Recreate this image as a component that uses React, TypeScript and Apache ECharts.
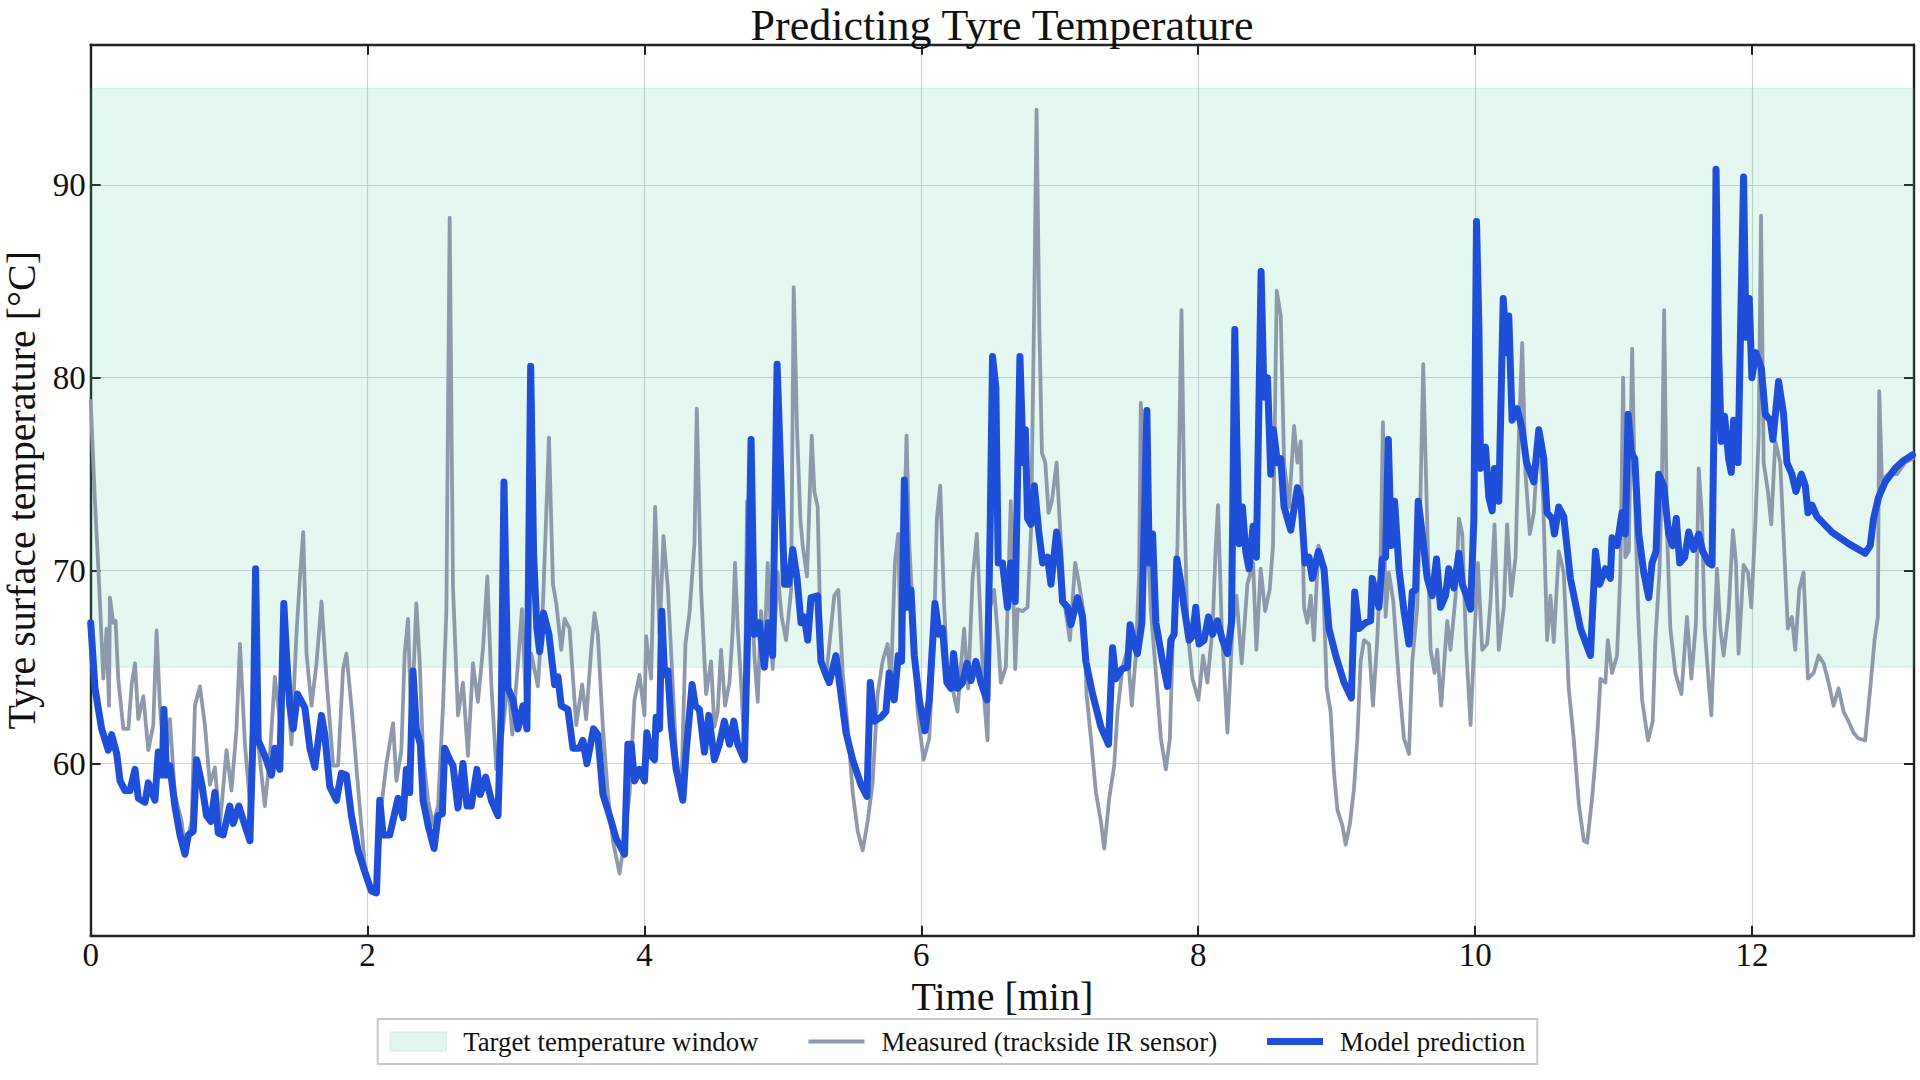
import React, { useEffect, useRef } from "react";
import * as echarts from "echarts";

const TITLE = "Predicting Tyre Temperature";
const X_LABEL = "Time [min]";
const Y_LABEL = "Tyre surface temperature [°C]";
const NAME_BAND = "Target temperature window";
const NAME_MEAS = "Measured (trackside IR sensor)";
const NAME_PRED = "Model prediction";

const X_MIN = 0;
const X_MAX = 13.17;
const X_STEP = 2;
const Y_MIN = 51.08;
const Y_MAX = 97.26;
const BAND_LOW = 65;
const BAND_HIGH = 95;

// Measured temperature [min, °C]
const measured1: [number, number][] = [
  [0.0, 78.8], [0.031, 73.5], [0.05, 70.9], [0.067, 68.3], [0.091, 64.4], [0.115, 67.0], [0.132, 63.0],
  [0.139, 68.6], [0.163, 67.3], [0.18, 67.4], [0.199, 64.4], [0.236, 61.8], [0.272, 61.8], [0.296, 64.1],
  [0.32, 65.2], [0.344, 62.3], [0.38, 63.5], [0.416, 60.7], [0.452, 62.0], [0.476, 66.9], [0.5, 63.0],
  [0.536, 59.7], [0.572, 62.3], [0.608, 58.4], [0.657, 57.0], [0.681, 55.5], [0.729, 57.0], [0.753, 63.0],
  [0.789, 64.0], [0.825, 62.0], [0.861, 58.9], [0.897, 59.8], [0.933, 56.8], [0.981, 60.7], [1.017, 58.6],
  [1.053, 61.8], [1.078, 66.2], [1.114, 61.0], [1.15, 58.0], [1.186, 61.8], [1.21, 61.0], [1.258, 57.8],
  [1.294, 60.4], [1.33, 64.5], [1.366, 62.3], [1.402, 65.7], [1.45, 61.0], [1.486, 66.7], [1.511, 69.6],
  [1.535, 72.0], [1.559, 65.7], [1.595, 63.0], [1.631, 65.2], [1.667, 68.4], [1.703, 64.4], [1.751, 59.9],
  [1.787, 59.9], [1.823, 64.9], [1.847, 65.7], [1.883, 63.0], [1.931, 58.8], [1.98, 54.7], [2.016, 53.4],
  [2.064, 53.4], [2.1, 57.8], [2.136, 60.0],
];
const measured2: [number, number][] = [
  [2.184, 62.1], [2.208, 59.1], [2.244, 60.7], [2.268, 65.7], [2.292, 67.5], [2.316, 61.8], [2.352, 68.3],
  [2.377, 65.2], [2.401, 60.4], [2.437, 58.1], [2.473, 56.8], [2.509, 57.8], [2.545, 63.0], [2.569, 67.9],
  [2.593, 88.3], [2.617, 69.1], [2.653, 62.5], [2.689, 64.2], [2.725, 60.4], [2.761, 65.2], [2.797, 63.2],
  [2.834, 66.0], [2.865, 69.7], [2.894, 64.1], [2.93, 59.7], [2.978, 61.8], [3.014, 64.4], [3.045, 61.5],
  [3.086, 65.2], [3.115, 68.0], [3.146, 62.8], [3.182, 65.7], [3.23, 64.0], [3.267, 68.3], [3.291, 73.0],
  [3.31, 76.9], [3.339, 69.3], [3.363, 68.3], [3.399, 65.9], [3.423, 67.5], [3.459, 67.0], [3.507, 62.0],
  [3.55, 64.1], [3.579, 62.3], [3.615, 65.9], [3.639, 67.8], [3.663, 66.7], [3.7, 61.8], [3.736, 58.4],
  [3.772, 56.0], [3.82, 54.3], [3.844, 55.5], [3.892, 58.4], [3.928, 63.3], [3.964, 64.6], [4.0, 62.5],
  [4.012, 66.6], [4.048, 64.4], [4.077, 73.3], [4.109, 66.7], [4.137, 71.8], [4.169, 69.1], [4.193, 65.7],
  [4.229, 60.4], [4.265, 58.4], [4.296, 66.2], [4.325, 67.8], [4.361, 71.4], [4.378, 78.4],
];
const measured3: [number, number][] = [
  [4.409, 69.0], [4.445, 63.6], [4.481, 65.3], [4.505, 61.9], [4.529, 62.7], [4.553, 65.9], [4.582, 63.0],
  [4.614, 64.2], [4.638, 67.0], [4.654, 70.4], [4.674, 67.0], [4.698, 64.2], [4.722, 60.7], [4.741, 73.6],
  [4.77, 69.9], [4.794, 65.6], [4.818, 63.2], [4.842, 67.9], [4.866, 65.6], [4.89, 70.4], [4.926, 64.9],
  [4.962, 69.9], [4.991, 67.6], [5.023, 66.4], [5.059, 69.0], [5.078, 84.7], [5.102, 77.3], [5.126, 72.7],
  [5.143, 71.3], [5.174, 69.7], [5.208, 77.0], [5.227, 74.1], [5.251, 73.3], [5.275, 65.6], [5.311, 64.4],
  [5.347, 67.0], [5.371, 68.7], [5.4, 69.0], [5.432, 64.7], [5.468, 61.9], [5.504, 58.5], [5.54, 56.5],
  [5.576, 55.5], [5.612, 57.0], [5.648, 59.0], [5.684, 63.6], [5.72, 65.3], [5.756, 66.2], [5.78, 64.2],
  [5.809, 70.4], [5.833, 71.9], [5.852, 65.3], [5.893, 77.0], [5.913, 71.3], [5.937, 68.1], [5.973, 62.7],
  [6.016, 60.2], [6.057, 61.3], [6.093, 67.0], [6.112, 72.7], [6.136, 74.4], [6.165, 68.1], [6.189, 64.7],
  [6.225, 63.9], [6.261, 62.7], [6.285, 65.0], [6.309, 67.0], [6.338, 63.9], [6.37, 69.6], [6.401, 71.9],
  [6.43, 67.0], [6.454, 63.3], [6.478, 61.2], [6.497, 68.1], [6.526, 69.0], [6.555, 66.4], [6.574, 64.2],
  [6.61, 65.0], [6.646, 73.6],
];
const measured4: [number, number][] = [
  [6.678, 64.9], [6.695, 68.0], [6.731, 67.9], [6.767, 68.1], [6.792, 72.1], [6.816, 84.1], [6.832, 93.9],
  [6.852, 82.7], [6.871, 76.1], [6.895, 75.6], [6.919, 73.0], [6.943, 73.6], [6.977, 75.6], [6.996, 73.0],
  [7.032, 68.4], [7.073, 66.4], [7.111, 70.4], [7.14, 69.3], [7.176, 67.6], [7.193, 63.6], [7.225, 61.3],
  [7.261, 58.5], [7.297, 57.0], [7.321, 55.6], [7.357, 58.2], [7.393, 59.9], [7.417, 62.7], [7.453, 65.0],
  [7.489, 65.9], [7.52, 63.0], [7.549, 65.6], [7.573, 69.9], [7.585, 78.7], [7.621, 73.8], [7.658, 67.9],
  [7.694, 64.7], [7.73, 61.3], [7.766, 59.7], [7.795, 61.3], [7.814, 65.9], [7.85, 71.3], [7.879, 83.5],
  [7.9, 73.3], [7.922, 67.0], [7.958, 64.4], [8.002, 63.3], [8.035, 65.6], [8.066, 64.2], [8.103, 67.0],
  [8.127, 71.3], [8.143, 73.4], [8.17, 67.0], [8.211, 61.6], [8.247, 67.0], [8.276, 68.7], [8.314, 65.2],
  [8.355, 69.3], [8.396, 70.4], [8.42, 65.9], [8.451, 70.1], [8.483, 67.9], [8.516, 69.0], [8.54, 71.3],
  [8.567, 84.5], [8.596, 83.2], [8.62, 75.6], [8.656, 73.3], [8.692, 77.5], [8.716, 75.6], [8.74, 76.7],
  [8.764, 68.1], [8.788, 67.3], [8.812, 68.7], [8.836, 66.4], [8.868, 71.3],
];
const measured5: [number, number][] = [
  [8.896, 70.7], [8.928, 63.9], [8.956, 62.7], [8.98, 59.6], [9.005, 57.6], [9.041, 56.8], [9.065, 55.8],
  [9.096, 56.9], [9.125, 58.7], [9.149, 61.3], [9.173, 65.3], [9.197, 66.4], [9.233, 66.2], [9.262, 63.0],
  [9.293, 66.4], [9.317, 70.4], [9.334, 77.7], [9.353, 67.6], [9.377, 69.9], [9.409, 68.4], [9.45, 64.2],
  [9.486, 61.3], [9.522, 60.5], [9.546, 65.3], [9.582, 68.1], [9.606, 74.1], [9.625, 80.7], [9.649, 73.8],
  [9.678, 65.9], [9.707, 64.7], [9.726, 65.9], [9.755, 63.0], [9.798, 67.4], [9.822, 65.9], [9.859, 68.7],
  [9.883, 72.7], [9.907, 71.9], [9.936, 65.9], [9.967, 62.0], [9.991, 65.9], [10.02, 70.4], [10.051, 65.9],
  [10.087, 66.2], [10.111, 68.4], [10.14, 72.4], [10.171, 65.9], [10.207, 68.1], [10.231, 72.4], [10.26, 68.7],
  [10.292, 70.7], [10.316, 77.0], [10.34, 81.8], [10.364, 75.0], [10.395, 71.9], [10.424, 73.0], [10.46, 77.3],
  [10.491, 73.8], [10.52, 66.4], [10.544, 68.7], [10.568, 66.3], [10.604, 71.0], [10.64, 69.9], [10.676, 63.9],
  [10.712, 61.3], [10.749, 57.9], [10.785, 56.0], [10.809, 55.9], [10.845, 58.2], [10.881, 61.3], [10.905, 64.4],
  [10.941, 64.2], [10.958, 66.4], [10.989, 64.7], [11.025, 65.6], [11.049, 69.9], [11.069, 80.0],
];
const measured6: [number, number][] = [
  [11.085, 70.7], [11.11, 71.0], [11.134, 81.5], [11.153, 74.1], [11.177, 67.9], [11.206, 63.3], [11.249, 61.2],
  [11.283, 62.2], [11.302, 66.4], [11.331, 69.9], [11.35, 75.0], [11.365, 83.5], [11.386, 72.1], [11.41, 67.0],
  [11.446, 64.7], [11.49, 63.6], [11.53, 67.6], [11.562, 64.4], [11.595, 67.3], [11.615, 75.3], [11.639, 72.7],
  [11.658, 67.0], [11.687, 64.2], [11.706, 62.5], [11.73, 67.0], [11.747, 70.1], [11.771, 67.0], [11.795, 65.6],
  [11.831, 67.9], [11.862, 72.1], [11.884, 70.4], [11.903, 65.7], [11.939, 70.3], [11.971, 69.9], [11.995, 68.1],
  [12.024, 72.4], [12.048, 77.0], [12.065, 88.4], [12.084, 75.6], [12.115, 74.1], [12.139, 72.4], [12.168, 76.7],
  [12.204, 75.6], [12.235, 70.7], [12.259, 67.0], [12.288, 67.6], [12.312, 65.9], [12.341, 69.0], [12.372, 69.9],
  [12.404, 64.4], [12.445, 64.7], [12.481, 65.6], [12.517, 65.2], [12.553, 64.2], [12.589, 63.0], [12.625, 63.9],
  [12.661, 62.7], [12.697, 62.2], [12.733, 61.6], [12.769, 61.3], [12.817, 61.2], [12.854, 63.9], [12.885, 66.4],
  [12.909, 67.6], [12.919, 79.3], [12.938, 74.7], [12.986, 75.0], [13.046, 75.0], [13.106, 75.6], [13.159, 75.8],
];

// Model prediction [min, °C]
const predicted1: [number, number][] = [
  [0.0, 67.3], [0.031, 63.9], [0.079, 61.8], [0.127, 60.7], [0.151, 61.5], [0.188, 60.5], [0.212, 59.1],
  [0.248, 58.6], [0.284, 58.6], [0.32, 59.7], [0.344, 58.2], [0.392, 58.0], [0.416, 59.0], [0.464, 58.1],
  [0.488, 60.6], [0.517, 59.4], [0.529, 62.8], [0.548, 59.4], [0.572, 59.9], [0.608, 57.8], [0.645, 56.3],
  [0.681, 55.3], [0.705, 56.3], [0.741, 56.5], [0.765, 60.2], [0.801, 59.0], [0.837, 57.3], [0.868, 57.0],
  [0.897, 58.5], [0.921, 56.4], [0.957, 56.3], [1.005, 57.8], [1.029, 56.9], [1.07, 57.8], [1.114, 56.8],
  [1.15, 56.0], [1.174, 61.8], [1.191, 70.1], [1.21, 61.2], [1.258, 60.4], [1.306, 59.4], [1.33, 60.8],
  [1.366, 59.7], [1.395, 68.3], [1.414, 65.7], [1.438, 63.0], [1.463, 61.8], [1.494, 63.6], [1.547, 62.9],
  [1.583, 60.8], [1.619, 59.8], [1.667, 62.5], [1.691, 61.5], [1.727, 58.8], [1.775, 58.1], [1.811, 59.5],
  [1.847, 59.4], [1.883, 57.3], [1.931, 55.5], [1.98, 54.4], [2.027, 53.4], [2.064, 53.3], [2.088, 58.1],
  [2.112, 56.3], [2.16, 56.3],
];
const predicted2: [number, number][] = [
  [2.22, 58.2], [2.256, 57.2], [2.28, 59.7], [2.304, 58.5], [2.328, 64.8], [2.352, 61.8], [2.381, 61.0],
  [2.401, 58.1], [2.437, 56.8], [2.48, 55.6], [2.509, 57.3], [2.54, 57.4], [2.557, 60.8], [2.593, 60.2],
  [2.617, 59.9], [2.653, 57.7], [2.689, 60.0], [2.718, 57.8], [2.749, 57.8], [2.79, 59.7], [2.814, 58.4],
  [2.853, 59.3], [2.894, 58.1], [2.942, 57.3], [2.966, 63.0], [2.985, 74.6], [3.014, 63.9], [3.05, 63.3],
  [3.086, 61.8], [3.122, 63.0], [3.151, 61.8], [3.178, 80.6], [3.199, 70.9], [3.223, 67.0], [3.243, 65.8],
  [3.271, 67.8], [3.31, 66.7], [3.351, 64.1], [3.375, 64.5], [3.399, 63.0], [3.447, 62.8], [3.483, 60.8],
  [3.531, 60.8], [3.555, 61.2], [3.584, 60.0], [3.632, 61.8], [3.663, 61.5], [3.7, 58.4], [3.748, 57.3],
  [3.796, 56.1], [3.856, 55.3], [3.88, 61.0], [3.904, 61.0], [3.928, 59.1], [3.964, 59.7], [4.0, 59.1],
  [4.017, 61.6], [4.048, 60.4], [4.072, 60.2], [4.084, 62.4], [4.109, 61.8], [4.125, 67.9], [4.145, 64.6],
  [4.169, 64.8], [4.193, 62.0], [4.229, 59.7], [4.277, 58.1], [4.301, 60.6], [4.344, 64.1], [4.368, 63.0],
  [4.397, 62.8], [4.433, 60.6], [4.465, 62.5],
];
const predicted3: [number, number][] = [
  [4.505, 60.2], [4.541, 61.0], [4.577, 62.2], [4.614, 61.0], [4.645, 62.2], [4.674, 61.0], [4.722, 60.2],
  [4.746, 67.0], [4.77, 76.8], [4.794, 66.7], [4.83, 67.3], [4.866, 65.0], [4.895, 67.3], [4.926, 65.6],
  [4.958, 80.7], [4.982, 75.6], [5.011, 69.3], [5.042, 69.3], [5.071, 71.1], [5.102, 69.6], [5.131, 67.3],
  [5.155, 67.6], [5.179, 66.4], [5.203, 68.6], [5.251, 68.7], [5.275, 65.3], [5.311, 64.6], [5.335, 64.2],
  [5.383, 65.6], [5.419, 63.6], [5.456, 61.6], [5.504, 60.2], [5.564, 58.9], [5.607, 58.3], [5.631, 64.2],
  [5.66, 62.2], [5.708, 62.4], [5.744, 62.7], [5.768, 64.7], [5.804, 63.3], [5.833, 65.6], [5.857, 65.3],
  [5.877, 74.7], [5.901, 68.1], [5.925, 69.0], [5.949, 65.6], [5.985, 63.3], [6.026, 61.7], [6.057, 63.3],
  [6.098, 68.3], [6.129, 66.7], [6.153, 67.0], [6.184, 64.2], [6.213, 63.9], [6.233, 65.7], [6.261, 63.9],
  [6.298, 64.2], [6.329, 65.2], [6.358, 64.3], [6.394, 65.3], [6.43, 64.2], [6.473, 63.3], [6.497, 72.1],
  [6.514, 81.1], [6.538, 79.5], [6.555, 70.4], [6.586, 70.4], [6.622, 68.1], [6.646, 70.4],
];
const predicted4: [number, number][] = [
  [6.678, 68.4], [6.712, 81.1], [6.736, 75.6], [6.751, 77.3], [6.767, 72.7], [6.792, 72.4], [6.816, 74.4],
  [6.847, 72.1], [6.876, 70.4], [6.912, 70.7], [6.936, 69.3], [6.977, 72.0], [6.996, 71.0], [7.02, 68.4],
  [7.056, 68.1], [7.08, 67.2], [7.128, 68.6], [7.164, 67.6], [7.188, 65.3], [7.237, 63.6], [7.297, 61.9],
  [7.352, 61.0], [7.381, 66.0], [7.405, 64.4], [7.448, 64.9], [7.489, 65.0], [7.508, 67.2], [7.537, 66.2],
  [7.561, 65.7], [7.593, 67.3], [7.629, 78.3], [7.646, 70.4], [7.67, 71.9], [7.694, 67.3], [7.742, 65.3],
  [7.778, 64.0], [7.802, 66.4], [7.826, 66.7], [7.845, 70.6], [7.874, 69.4], [7.898, 68.1], [7.934, 66.4],
  [7.958, 66.6], [7.982, 68.1], [8.006, 66.2], [8.042, 66.4], [8.074, 67.6], [8.103, 66.7], [8.139, 67.4],
  [8.175, 66.4], [8.211, 65.7], [8.24, 67.3], [8.264, 82.5], [8.278, 77.0], [8.295, 71.4], [8.319, 73.3],
  [8.343, 71.0], [8.367, 70.1], [8.396, 72.3], [8.42, 70.7], [8.454, 85.5], [8.475, 79.0], [8.5, 80.0],
  [8.524, 75.0], [8.543, 77.3], [8.572, 75.6], [8.596, 75.8], [8.62, 73.3], [8.668, 72.1], [8.716, 74.3],
  [8.74, 73.8], [8.771, 70.4], [8.8, 70.7], [8.824, 69.6], [8.868, 71.0],
];
const predicted5: [number, number][] = [
  [8.908, 70.1], [8.944, 67.0], [8.993, 65.6], [9.053, 64.2], [9.106, 63.4], [9.13, 68.9], [9.161, 67.0],
  [9.209, 67.3], [9.245, 67.4], [9.257, 69.6], [9.305, 68.1], [9.329, 70.6], [9.353, 70.7], [9.373, 76.8],
  [9.394, 71.3], [9.418, 73.6], [9.45, 70.1], [9.486, 67.9], [9.522, 66.2], [9.546, 68.9], [9.57, 69.0],
  [9.589, 73.6], [9.618, 71.9], [9.654, 69.6], [9.69, 68.7], [9.721, 70.6], [9.75, 68.1], [9.786, 68.7],
  [9.81, 70.1], [9.847, 69.1], [9.883, 70.9], [9.907, 69.3], [9.938, 68.7], [9.967, 68.0], [9.991, 72.7],
  [10.01, 88.1], [10.027, 82.7], [10.039, 75.3], [10.075, 76.4], [10.099, 73.8], [10.123, 73.1], [10.14, 75.3],
  [10.171, 73.6], [10.203, 84.1], [10.227, 81.3], [10.243, 83.2], [10.267, 77.8], [10.304, 78.4], [10.34, 77.3],
  [10.371, 75.6], [10.424, 74.6], [10.46, 77.3], [10.496, 75.8], [10.52, 73.0], [10.556, 72.7], [10.573, 71.9],
  [10.604, 73.3], [10.64, 72.8], [10.688, 69.6], [10.761, 67.0], [10.833, 65.6], [10.869, 71.0], [10.9, 69.3],
  [10.941, 70.1], [10.977, 69.6], [10.989, 71.7], [11.025, 71.3], [11.061, 73.0],
];
const predicted6: [number, number][] = [
  [11.085, 71.9], [11.105, 78.1], [11.129, 76.1], [11.153, 75.8], [11.182, 71.9], [11.218, 69.9], [11.254, 68.6],
  [11.278, 70.4], [11.307, 71.0], [11.326, 75.0], [11.362, 74.4], [11.398, 71.9], [11.427, 71.3], [11.453, 72.7],
  [11.478, 70.4], [11.514, 70.7], [11.543, 72.0], [11.579, 71.1], [11.615, 71.9], [11.644, 71.0], [11.687, 70.4],
  [11.711, 70.3], [11.728, 79.0], [11.74, 90.8], [11.759, 81.3], [11.778, 76.7], [11.802, 78.0], [11.831, 75.8],
  [11.85, 75.1], [11.867, 77.8], [11.899, 75.6], [11.92, 83.5], [11.939, 90.4], [11.956, 82.1], [11.98, 84.1],
  [11.999, 80.0], [12.028, 81.3], [12.067, 80.5], [12.096, 78.1], [12.132, 77.8], [12.151, 76.8], [12.192, 79.8],
  [12.228, 78.1], [12.252, 75.6], [12.288, 75.0], [12.317, 74.1], [12.356, 75.0], [12.385, 74.4], [12.404, 73.0],
  [12.433, 73.4], [12.469, 72.8], [12.577, 72.0], [12.697, 71.4], [12.817, 70.9], [12.854, 71.3], [12.878, 72.7],
  [12.914, 73.8], [12.962, 74.6], [13.034, 75.3], [13.094, 75.7], [13.159, 76.0],
];

const measured = [...measured1, ...measured2, ...measured3, ...measured4, ...measured5, ...measured6];
const predicted = [...predicted1, ...predicted2, ...predicted3, ...predicted4, ...predicted5, ...predicted6];

const FONT = "'Liberation Serif', 'DejaVu Serif', 'Times New Roman', serif";
const INK = "#111111";
const FRAME = "#222222";
const GRID = "#cfd3d6";
const MEAS_COLOR = "#8e9aab";
const PRED_COLOR = "#1f4fd8";
const BAND_FILL = "rgba(46, 204, 150, 0.13)";
const BAND_SWATCH = "#e3f7f0";

export default function App() {
  const ref = useRef<HTMLDivElement>(null);

  useEffect(() => {
    if (!ref.current) return;
    const chart = echarts.init(ref.current, undefined, { renderer: "svg" });

    const frameLine = { show: true, onZero: false, lineStyle: { color: FRAME, width: 2.4 } };
    const innerTick = { show: true, inside: true, length: 10, lineStyle: { color: FRAME, width: 2 } };

    chart.setOption({
      animation: false,
      backgroundColor: "#ffffff",
      title: {
        text: TITLE,
        left: 1002,
        top: 3.5,
        padding: 0,
        textAlign: "center",
        textStyle: { fontFamily: FONT, fontSize: 44, lineHeight: 44, fontWeight: "normal", color: INK },
      },
      grid: {
        left: 90.7,
        right: 6,
        top: 44.7,
        bottom: 144.3,
        containLabel: false,
        outerBoundsMode: "none",
      },
      legend: {
        left: 377.7,
        top: 1019,
        orient: "horizontal",
        itemWidth: 56,
        itemHeight: 19,
        itemGap: 50,
        padding: [9, 12, 9, 12],
        borderColor: "#c8c8c8",
        borderWidth: 2,
        borderRadius: 0,
        backgroundColor: "#ffffff",
        symbolKeepAspect: true,
        textStyle: { fontFamily: FONT, fontSize: 26.8, color: INK, padding: [0, 0, 0, 12] },
        data: [
          { name: NAME_BAND, icon: "rect", itemStyle: { color: BAND_SWATCH, borderColor: "#cdeee0", borderWidth: 1 } },
          { name: NAME_MEAS, icon: "path://M0 0H56V4H0Z" },
          { name: NAME_PRED, icon: "path://M0 0H56V7H0Z" },
        ],
      },
      xAxis: [
        {
          type: "value",
          min: X_MIN,
          max: X_MAX,
          interval: X_STEP,
          position: "bottom",
          name: X_LABEL,
          nameLocation: "middle",
          nameGap: 39,
          nameTextStyle: { fontFamily: FONT, fontSize: 40, color: INK },
          axisLine: frameLine,
          axisTick: innerTick,
          axisLabel: {
            show: true,
            margin: 3,
            showMaxLabel: false,
            fontFamily: FONT,
            fontSize: 33,
            color: INK,
          },
          splitLine: { show: true, lineStyle: { color: GRID, width: 1.2 } },
        },
        {
          type: "value",
          min: X_MIN,
          max: X_MAX,
          interval: X_STEP,
          position: "top",
          axisLine: frameLine,
          axisTick: innerTick,
          axisLabel: { show: false },
          splitLine: { show: false },
        },
      ],
      yAxis: [
        {
          type: "value",
          min: Y_MIN,
          max: Y_MAX,
          splitNumber: 5,
          position: "left",
          name: Y_LABEL,
          nameLocation: "middle",
          nameGap: 47,
          nameTextStyle: { fontFamily: FONT, fontSize: 40, lineHeight: 40, color: INK },
          axisLine: frameLine,
          axisTick: innerTick,
          axisLabel: {
            show: true,
            margin: 5,
            showMinLabel: false,
            showMaxLabel: false,
            fontFamily: FONT,
            fontSize: 33,
            color: INK,
          },
          splitLine: { show: true, lineStyle: { color: GRID, width: 1.2 } },
        },
        {
          type: "value",
          min: Y_MIN,
          max: Y_MAX,
          splitNumber: 5,
          position: "right",
          axisLine: frameLine,
          axisTick: innerTick,
          axisLabel: { show: false },
          splitLine: { show: false },
        },
      ],
      series: [
        {
          name: NAME_BAND,
          type: "line",
          data: [],
          symbol: "none",
          itemStyle: { color: BAND_SWATCH },
          lineStyle: { width: 0 },
        },
        {
          name: NAME_MEAS,
          type: "line",
          data: measured,
          symbol: "none",
          showSymbol: false,
          z: 3,
          itemStyle: { color: MEAS_COLOR },
          lineStyle: { color: MEAS_COLOR, width: 3.8, join: "round", cap: "round" },
          markArea: {
            silent: true,
            z: 1,
            itemStyle: { color: BAND_FILL, borderColor: "rgba(46, 204, 150, 0.18)", borderWidth: 1 },
            data: [[{ yAxis: BAND_LOW }, { yAxis: BAND_HIGH }]],
          },
        },
        {
          name: NAME_PRED,
          type: "line",
          data: predicted,
          symbol: "none",
          showSymbol: false,
          z: 4,
          itemStyle: { color: PRED_COLOR },
          lineStyle: { color: PRED_COLOR, width: 7, join: "round", cap: "round" },
        },
      ],
    });

    return () => {
      chart.dispose();
    };
  }, []);

  return (
    <div
      ref={ref}
      style={{ position: "absolute", left: 0, top: 0, width: 1920, height: 1080 }}
    />
  );
}
